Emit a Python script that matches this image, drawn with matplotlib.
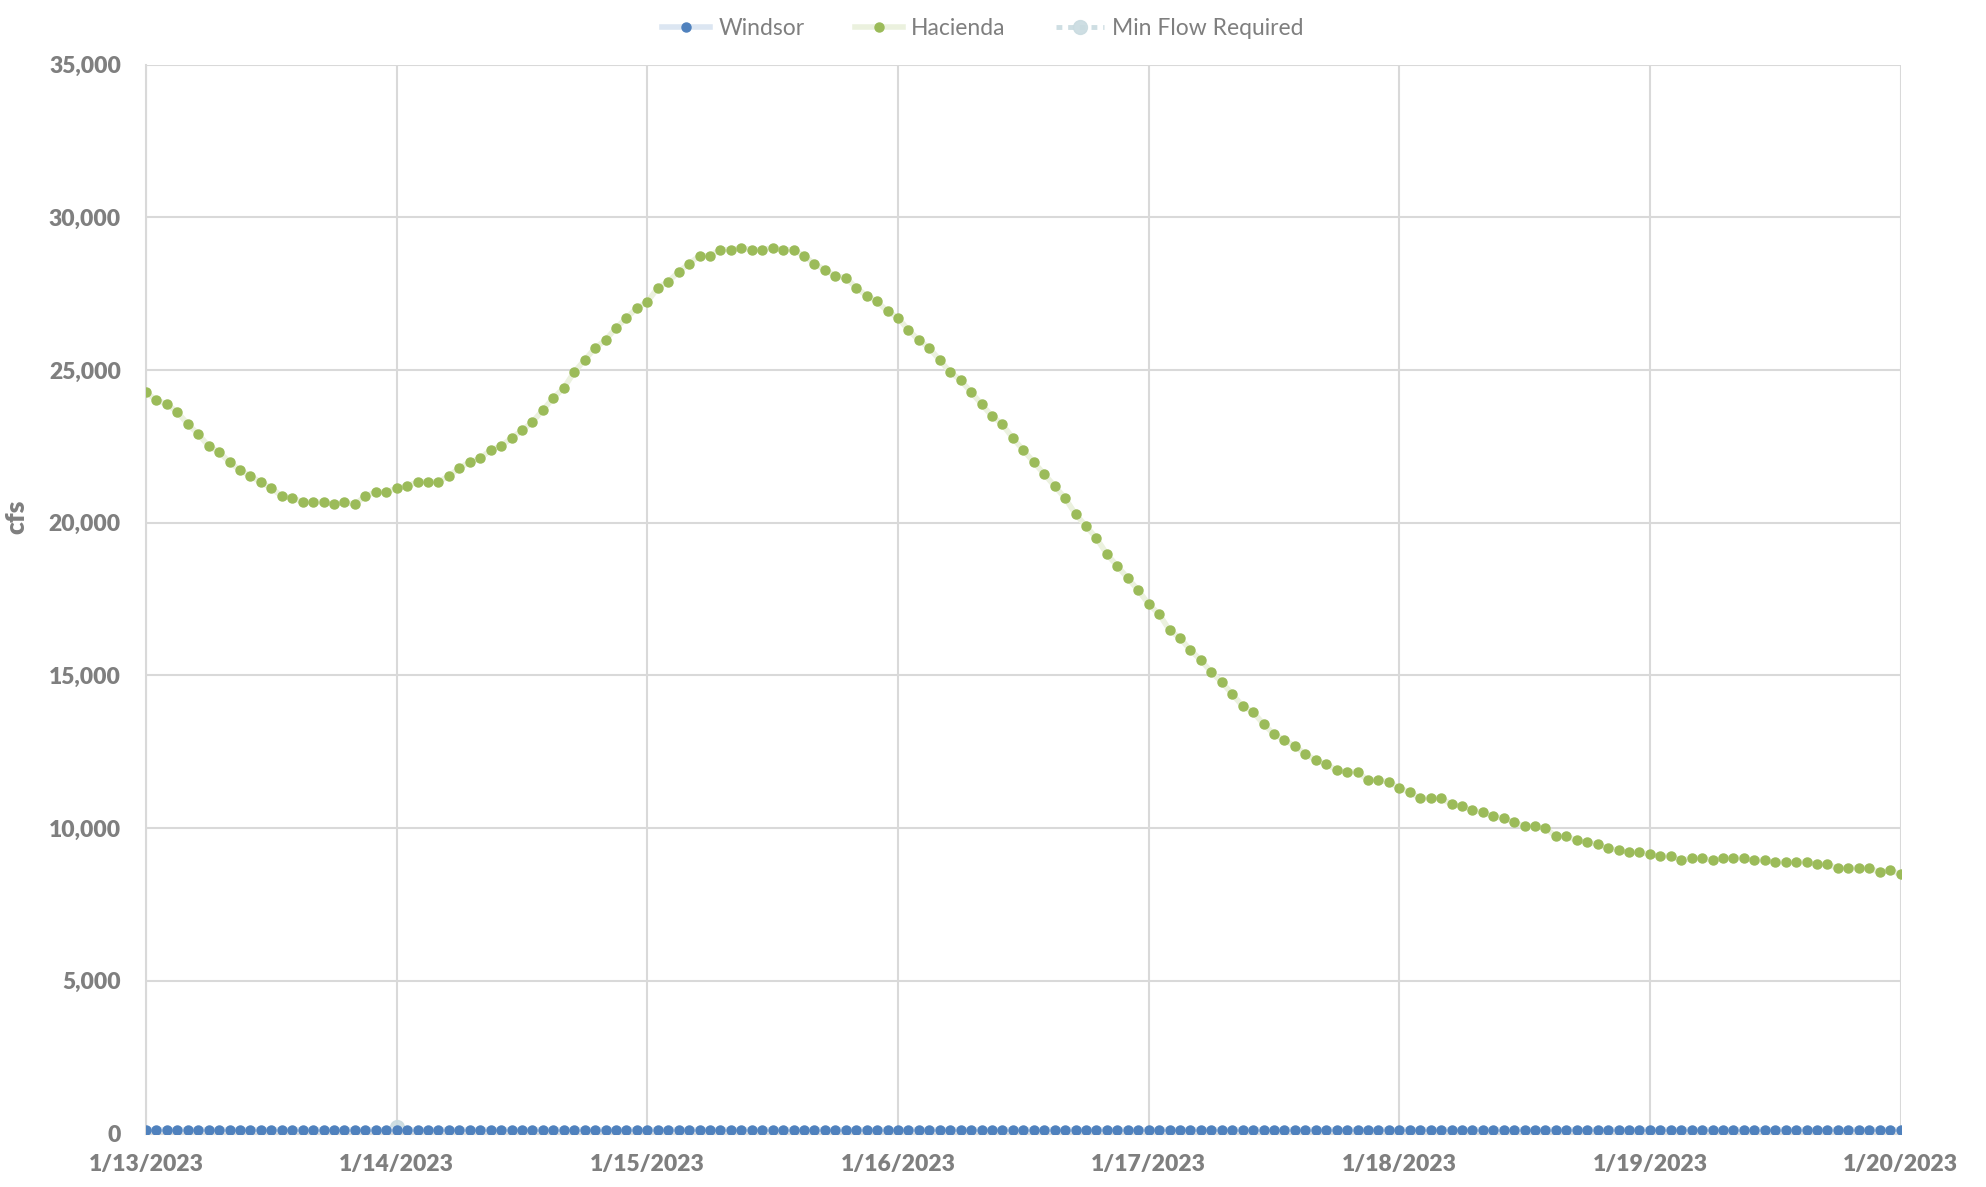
import pandas as pd
import matplotlib.pyplot as plt

# hourly readings, 1/13/2023 00:00 through 1/20/2023 00:00
hacienda_cfs = [
    24270, 24018, 23887, 23625, 23232, 22905, 22512, 22316, 21988, 21726, 21530, 21323,
    21137, 20875, 20820, 20678, 20678, 20678, 20602, 20678, 20602, 20875, 21006, 21006,
    21130, 21202, 21343, 21343, 21343, 21530, 21792, 21988, 22109, 22381, 22512, 22774,
    23025, 23298, 23691, 24084, 24411, 24935, 25328, 25721, 25983, 26376, 26703, 27031,
    27230, 27696, 27892, 28219, 28481, 28743, 28743, 28940, 28940, 29005, 28940, 28940,
    29005, 28940, 28940, 28743, 28481, 28285, 28088, 28023, 27696, 27433, 27250, 26922,
    26713, 26310, 25983, 25721, 25328, 24935, 24673, 24280, 23887, 23494, 23222, 22774,
    22381, 21988, 21595, 21202, 20809, 20285, 19892, 19499, 18975, 18582, 18189, 17796,
    17338, 17011, 16487, 16225, 15833, 15505, 15112, 14785, 14392, 13999, 13803, 13410,
    13082, 12886, 12689, 12427, 12231, 12100, 11903, 11838, 11838, 11576, 11576, 11510,
    11310, 11173, 10977, 10977, 10977, 10781, 10716, 10585, 10519, 10388, 10323, 10192,
    10061, 10061, 9995, 9733, 9733, 9602, 9537, 9471, 9340, 9275, 9210, 9210,
    9144, 9079, 9079, 8948, 9013, 9013, 8948, 9013, 9013, 9013, 8948, 8948,
    8882, 8882, 8882, 8882, 8817, 8817, 8686, 8686, 8686, 8686, 8555, 8620, 8489,
]

windsor_cfs = [
    120, 120, 120, 120, 120, 120, 120, 120, 120, 120, 120, 120, 120,
    120, 120, 120, 120, 120, 120, 120, 120, 120, 120, 120, 120, 120,
    120, 120, 120, 120, 120, 120, 120, 120, 120, 120, 120, 120, 120,
    120, 120, 120, 120, 120, 120, 120, 120, 120, 120, 120, 120, 120,
    120, 120, 120, 120, 120, 120, 120, 120, 120, 120, 120, 120, 120,
    120, 120, 120, 120, 120, 120, 120, 120, 120, 120, 120, 120, 120,
    120, 120, 120, 120, 120, 120, 120, 120, 120, 120, 120, 120, 120,
    120, 120, 120, 120, 120, 120, 120, 120, 120, 120, 120, 120, 120,
    120, 120, 120, 120, 120, 120, 120, 120, 120, 120, 120, 120, 120,
    120, 120, 120, 120, 120, 120, 120, 120, 120, 120, 120, 120, 120,
    120, 120, 120, 120, 120, 120, 120, 120, 120, 120, 120, 120, 120,
    120, 120, 120, 120, 120, 120, 120, 120, 120, 120, 120, 120, 120,
    120, 120, 120, 120, 120, 120, 120, 120, 120, 120, 120, 120, 120,
]

min_flow_dates = ["2023-01-14 00:00"]
min_flow_cfs = [200]

y_ticks = [0, 5000, 10000, 15000, 20000, 25000, 30000, 35000]
tick_dates = ["2023-01-13", "2023-01-14", "2023-01-15", "2023-01-16",
              "2023-01-17", "2023-01-18", "2023-01-19", "2023-01-20"]
tick_labels = ["1/13/2023", "1/14/2023", "1/15/2023", "1/16/2023",
               "1/17/2023", "1/18/2023", "1/19/2023", "1/20/2023"]

times = pd.date_range("2023-01-13 00:00", periods=len(hacienda_cfs), freq="h")

plt.rcParams['font.family'] = ['Lato', 'DejaVu Sans']
grey = '#7f7f7f'
grid_grey = '#d9d9d9'

fig = plt.figure(figsize=(19.86, 11.87), dpi=100)
ax = fig.add_axes([0.0735, 0.045, 0.8835, 0.9005])

mf, = ax.plot(pd.to_datetime(min_flow_dates), min_flow_cfs, color='#c9dbe0', lw=3.5,
              ls=(0, (1.2, 1.2)), marker='o', ms=10, alpha=0.9, zorder=2,
              label='Min Flow Required')
ha, = ax.plot(times, hacienda_cfs, color='#ebf1de', lw=4, marker='o', ms=6.5,
              markerfacecolor='#9bbb59', markeredgecolor='#9bbb59', zorder=3,
              label='Hacienda')
wi, = ax.plot(times, windsor_cfs, color='#dce6f2', lw=4, marker='o', ms=6.5,
              markerfacecolor='#4f81bd', markeredgecolor='#4f81bd', zorder=4,
              label='Windsor')

ax.set_xlim(pd.Timestamp(tick_dates[0]), pd.Timestamp(tick_dates[-1]))
ax.set_ylim(0, 35000)
ax.set_yticks(y_ticks)
ax.set_yticklabels([f"{v:,}" for v in y_ticks], fontweight='heavy')
ax.set_xticks(pd.to_datetime(tick_dates))
ax.set_xticklabels(tick_labels, fontweight='heavy')

ax.grid(True, color=grid_grey, lw=1.5)
ax.set_axisbelow(True)
for side in ['top', 'right']:
    ax.spines[side].set_visible(False)
for side in ['left', 'bottom']:
    ax.spines[side].set_color(grid_grey)
    ax.spines[side].set_linewidth(1.5)
ax.tick_params(length=0, labelsize=16.5, labelcolor=grey)
ax.tick_params(axis='y', pad=18)
ax.tick_params(axis='x', pad=15)

ax.set_ylabel('cfs', fontsize=19, fontweight='heavy', color=grey)
ax.yaxis.set_label_coords(-0.067, 0.577)

fig.legend(handles=[wi, ha, mf], loc='upper center', bbox_to_anchor=(0.495, 1.002),
           ncol=3, frameon=False, fontsize=16.5, labelcolor=grey,
           handlelength=2.1, columnspacing=2.2, handletextpad=0.35)

fig.savefig('out.png', dpi=100)
